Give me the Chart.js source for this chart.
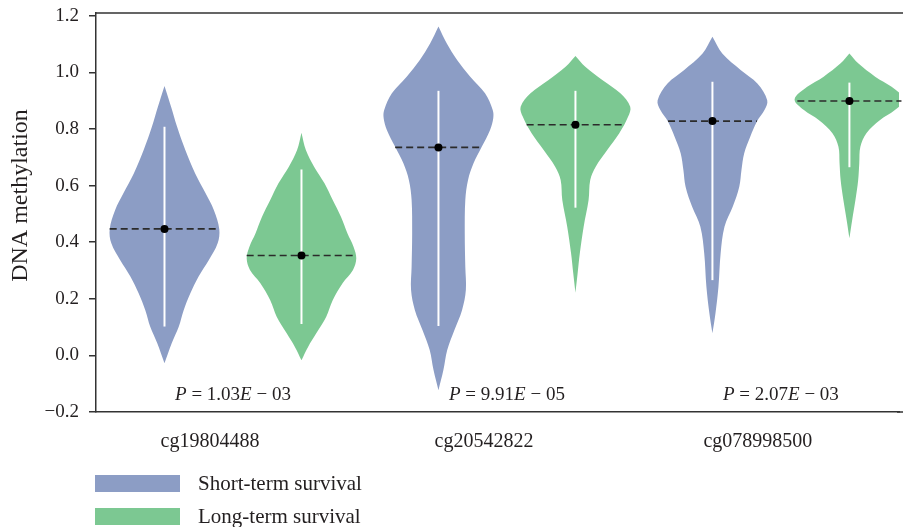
<!DOCTYPE html>
<html>
<head>
<meta charset="utf-8">
<script src="https://cdn.jsdelivr.net/npm/chart.js@4"></script>
<style>
    html, body { margin: 0; background: #fff; overflow: hidden; }
    #wrap { position: relative; width: 903px; height: 527px; overflow: hidden; }
    #violinChart { display: block; }
    #legend { position: absolute; left: 95px; top: 475px; font-family: "Liberation Serif", serif; font-size: 21px; color: #231f20; }
    .item { display: flex; align-items: center; height: 17px; margin-bottom: 16px; }
    .item:last-child { margin-bottom: 0; }
    .box { width: 85px; height: 17px; margin-right: 18px; }
</style>
</head>
<body>
<div id="wrap">
    <canvas id="violinChart" width="903" height="527"></canvas>
    <div id="legend"></div>
</div>
<script>
// categories and groups
const categories = ['cg19804488', 'cg20542822', 'cg078998500'];
const groupNames = ['Short-term survival', 'Long-term survival'];
const groupColors = ['#8c9dc5', '#7cc892'];

// violin outlines: [methylation level, relative half width], bottom tip to top tip
const shortProfiles = [
    [[-0.028, 0], [0.042, 0.13], [0.101, 0.26], [0.160, 0.35], [0.219, 0.47], [0.278, 0.62], [0.337, 0.81],
     [0.396, 0.97], [0.446, 1.0], [0.514, 0.9], [0.573, 0.75], [0.643, 0.56], [0.726, 0.38], [0.808, 0.23],
     [0.879, 0.12], [0.910, 0.07], [0.952, 0]],
    [[-0.123, 0], [-0.052, 0.09], [0.019, 0.16], [0.089, 0.29], [0.160, 0.43], [0.231, 0.50], [0.313, 0.49],
     [0.431, 0.48], [0.549, 0.49], [0.620, 0.54], [0.679, 0.64], [0.737, 0.79], [0.796, 0.94], [0.838, 1.0],
     [0.867, 0.99], [0.926, 0.85], [0.985, 0.58], [1.044, 0.34], [1.103, 0.15], [1.162, 0]],
    [[0.078, 0], [0.148, 0.055], [0.243, 0.11], [0.361, 0.15], [0.455, 0.22], [0.525, 0.37], [0.596, 0.49],
     [0.655, 0.53], [0.714, 0.58], [0.773, 0.69], [0.826, 0.81], [0.867, 0.95], [0.902, 1.0], [0.961, 0.82],
     [1.008, 0.52], [1.067, 0.18], [1.126, 0]]
];
const longProfiles = [
    [[-0.017, 0], [0.030, 0.12], [0.078, 0.27], [0.136, 0.45], [0.195, 0.57], [0.255, 0.75], [0.302, 0.94],
     [0.343, 1.0], [0.384, 0.95], [0.431, 0.84], [0.490, 0.72], [0.549, 0.57], [0.608, 0.42], [0.667, 0.23],
     [0.726, 0.08], [0.787, 0]],
    [[0.221, 0], [0.290, 0.04], [0.361, 0.08], [0.455, 0.15], [0.549, 0.24], [0.620, 0.27], [0.667, 0.37],
     [0.726, 0.58], [0.785, 0.80], [0.843, 0.96], [0.879, 1.0], [0.926, 0.82], [0.973, 0.49], [1.020, 0.18],
     [1.058, 0]],
    [[0.414, 0], [0.478, 0.05], [0.549, 0.11], [0.620, 0.16], [0.679, 0.18], [0.737, 0.20], [0.785, 0.31],
     [0.832, 0.56], [0.867, 0.83], [0.905, 1.0], [0.949, 0.77], [0.985, 0.47], [1.032, 0.16], [1.067, 0]]
];

// medians, white range lines, dashed median widths
const shortMedian = [0.447, 0.735, 0.828];
const longMedian = [0.353, 0.815, 0.899];
const shortRange = [[0.102, 0.808], [0.104, 0.935], [0.266, 0.967]];
const longRange = [[0.111, 0.657], [0.522, 0.935], [0.665, 0.964]];
const shortMedianWidth = [1.0, 0.79, 0.81];
const longMedianWidth = [1.0, 0.89, 0.95];

// P value labels
const pMantissa = ['1.03', '9.91', '2.07'];
const pExponent = ['03', '05', '03'];

const yTicks = [-0.2, 0, 0.2, 0.4, 0.6, 0.8, 1.0, 1.2];

const halfSpan = 0.2;   // half of one violin's width in category units
const dodge = 0.25;     // distance of each violin from its category centre
const textColor = '#231f20';
const serif = '"Liberation Serif", "Times New Roman", serif';

function violinPoints(center, profile) {
    const right = profile.map(p => ({ x: center + halfSpan * p[1], y: p[0] }));
    const left = profile.slice().reverse().map(p => ({ x: center - halfSpan * p[1], y: p[0] }));
    return right.concat(left);
}

const datasets = [];
function addGroup(g, profiles, medians, ranges, medWidths, offset) {
    profiles.forEach((profile, i) => {
        const c = i + offset;
        datasets.push({
            label: groupNames[g], data: violinPoints(c, profile), order: 4,
            backgroundColor: groupColors[g], borderWidth: 0, fill: 'shape',
            tension: 0.35, pointRadius: 0, clip: false
        });
        datasets.push({
            data: [{ x: c, y: ranges[i][0] }, { x: c, y: ranges[i][1] }], order: 3,
            borderColor: '#ffffff', borderWidth: 2, pointRadius: 0, fill: false
        });
        datasets.push({
            data: [{ x: c - halfSpan * medWidths[i], y: medians[i] }, { x: c + halfSpan * medWidths[i], y: medians[i] }],
            order: 2, borderColor: '#2b2b2b', borderWidth: 1.6, borderDash: [7, 4], pointRadius: 0, fill: false, clip: false
        });
        datasets.push({
            data: [{ x: c, y: medians[i] }], order: 1, showLine: false,
            pointRadius: 4, pointBackgroundColor: '#000', pointBorderWidth: 0
        });
    });
}
addGroup(0, shortProfiles, shortMedian, shortRange, shortMedianWidth, -dodge);
addGroup(1, longProfiles, longMedian, longRange, longMedianWidth, dodge);

function noPadding(scale) {
    scale.paddingTop = 0;
    scale.paddingBottom = 0;
    scale.paddingLeft = 0;
    scale.paddingRight = 0;
}

// top spine, bottom spine to the edge, y title, P value texts
const extrasPlugin = {
    id: 'extras',
    afterDraw(chart) {
        const ctx = chart.ctx;
        const area = chart.chartArea;
        const xs = chart.scales.x, ys = chart.scales.y;
        ctx.save();
        ctx.strokeStyle = '#333';
        ctx.lineWidth = 1.5;
        ctx.beginPath();
        ctx.moveTo(area.left, area.top);
        ctx.lineTo(chart.width, area.top);
        ctx.moveTo(area.right - 2, area.bottom);
        ctx.lineTo(chart.width, area.bottom);
        ctx.stroke();

        ctx.fillStyle = textColor;
        ctx.translate(21, (area.top + area.bottom) / 2 - 17);
        ctx.rotate(-Math.PI / 2);
        ctx.font = '24px ' + serif;
        ctx.textAlign = 'center';
        ctx.textBaseline = 'middle';
        ctx.fillText('DNA methylation', 0, 0);
        ctx.restore();

        ctx.save();
        ctx.fillStyle = textColor;
        ctx.textBaseline = 'middle';
        ctx.textAlign = 'left';
        categories.forEach((cat, i) => {
            const parts = [
                ['italic', 'P'], ['normal', ' = ' + pMantissa[i]], ['italic', 'E'], ['normal', ' \u2212 ' + pExponent[i]]
            ];
            let total = 0;
            parts.forEach(p => { ctx.font = p[0] + ' 19px ' + serif; total += ctx.measureText(p[1]).width; });
            let x = xs.getPixelForValue(i) - total / 2;
            const y = ys.getPixelForValue(-0.14);
            parts.forEach(p => {
                ctx.font = p[0] + ' 19px ' + serif;
                ctx.fillText(p[1], x, y);
                x += ctx.measureText(p[1]).width;
            });
        });
        ctx.restore();
    }
};

const chart = new Chart(document.getElementById('violinChart'), {
    type: 'line',
    data: { datasets: datasets },
    options: {
        responsive: false,
        animation: false,
        events: [],
        layout: { padding: { top: 13, right: 0, bottom: 0, left: 0 } },
        plugins: { legend: { display: false }, tooltip: { enabled: false } },
        scales: {
            x: {
                type: 'linear', min: -0.5, max: 2.431,
                afterFit: scale => { scale.height = 115; noPadding(scale); },
                afterBuildTicks: scale => { scale.ticks = categories.map((c, i) => ({ value: i })); },
                grid: { display: false },
                border: { display: true, color: '#333', width: 1.5 },
                ticks: {
                    callback: v => categories[v],
                    labelOffset: -23, padding: 10, maxRotation: 0, autoSkip: false,
                    color: textColor, font: { family: serif, size: 20 }
                }
            },
            y: {
                min: -0.2, max: 1.21,
                afterFit: scale => { scale.width = 96; noPadding(scale); },
                afterBuildTicks: scale => { scale.ticks = yTicks.map(v => ({ value: v })); },
                grid: { drawOnChartArea: false, drawTicks: true, tickLength: 7, color: '#333', lineWidth: 1.5 },
                border: { display: true, color: '#333', width: 1.5 },
                ticks: {
                    callback: v => (v < -1e-9 ? '\u2212' : '') + Math.abs(v).toFixed(1),
                    padding: 10, color: textColor, font: { family: serif, size: 19 }
                }
            }
        }
    },
    plugins: [extrasPlugin]
});

// legend
const legendEl = document.getElementById('legend');
groupNames.forEach((name, g) => {
    const item = document.createElement('div');
    item.className = 'item';
    item.innerHTML = `<span class="box" style="background:${groupColors[g]}"></span><span>${name}</span>`;
    legendEl.appendChild(item);
});
</script>
</body>
</html>
